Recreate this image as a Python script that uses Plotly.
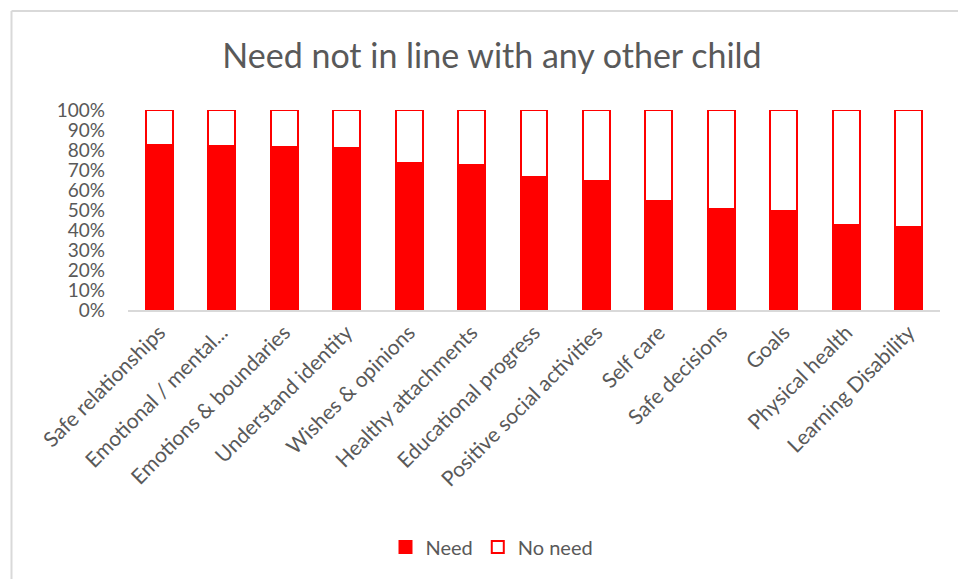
import plotly.graph_objects as go

categories = ["Safe relationships", "Emotional / mental...", "Emotions & boundaries",
              "Understand identity", "Wishes & opinions", "Healthy attachments",
              "Educational progress", "Positive social activities", "Self care",
              "Safe decisions", "Goals", "Physical health", "Learning Disability"]
need = [0.826, 0.818, 0.813, 0.811, 0.735, 0.727, 0.667, 0.646, 0.544, 0.506, 0.494, 0.423, 0.415]
no_need = [round(1 - v, 3) for v in need]

W, H = 958, 579
L, R, T, B = 128, 18, 110, 269
PW, PH = W - L - R, H - T - B

def px(x):
    return (x - L) / PW

def py(y):
    return (H - B - y) / PH

FONT = "Lato"
GRAY = "#595959"

fig = go.Figure()
fig.add_trace(go.Bar(x=categories, y=need, name="Need",
                     marker=dict(color="#ff0000", line=dict(color="#ff0000", width=2))))
fig.add_trace(go.Bar(x=categories, y=no_need, name="No need",
                     marker=dict(color="#ffffff", line=dict(color="#ff0000", width=2))))

fig.update_layout(
    width=W, height=H,
    margin=dict(l=L, r=R, t=T, b=B, autoexpand=False),
    barmode="stack", bargap=0.57,
    paper_bgcolor="white", plot_bgcolor="white",
    font=dict(family=FONT, color=GRAY),
    title=dict(text="Need not in line with any other child", xref="container", x=492 / W,
               xanchor="center", yref="container", y=1 - 56 / H, yanchor="middle",
               font=dict(size=34, color=GRAY, family=FONT)),
    xaxis=dict(tickangle=-45, tickfont=dict(size=21, color=GRAY), showline=True,
               linecolor="#d9d9d9", linewidth=2, showgrid=False, ticks=""),
    yaxis=dict(range=[0, 1], tickvals=[i / 10 for i in range(11)], tickformat=".0%",
               tickfont=dict(size=19, color=GRAY), showgrid=False, zeroline=False,
               showline=False, ticks="", ticklabelstandoff=22),
    legend=dict(orientation="h", x=px(492), xanchor="center", y=py(547), yanchor="middle",
                font=dict(size=20, color=GRAY), traceorder="normal"),
    showlegend=True,
    shapes=[
        dict(type="line", xref="paper", yref="paper", x0=px(11.5), x1=px(960),
             y0=py(11), y1=py(11), line=dict(color="#d9d9d9", width=2)),
        dict(type="line", xref="paper", yref="paper", x0=px(11.5), x1=px(11.5),
             y0=py(11), y1=py(582), line=dict(color="#d9d9d9", width=2)),
    ],
)

fig.write_html("out.html")
